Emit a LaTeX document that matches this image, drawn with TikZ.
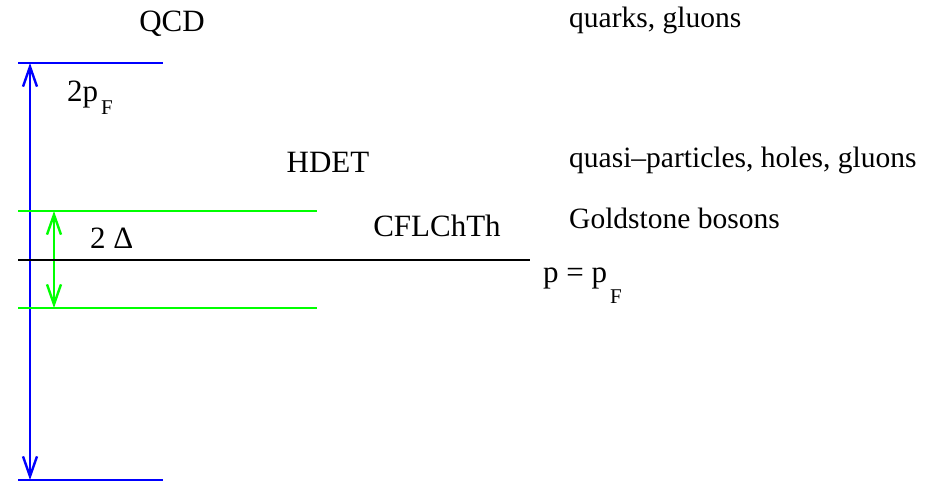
\documentclass[tikz,border=0pt]{standalone}
\usepackage{fontspec}
\setmainfont{Liberation Serif}
\usetikzlibrary{arrows.meta}
\definecolor{scaleblue}{HTML}{0000FF}
\definecolor{gapgreen}{HTML}{00FF00}

\begin{document}
\begin{tikzpicture}[x=1pt,y=-1pt,>={Straight Barb[length=20pt,width=14pt]},
  level/.style={line width=2.4pt},
  theory/.style={font=\rmfamily\fontsize{31}{36}\selectfont,anchor=base,inner sep=0pt},
  dof/.style={font=\rmfamily\fontsize{29.5}{35}\selectfont,anchor=base west,inner sep=0pt}]
  \useasboundingbox (0,0) rectangle (935,483);
  \coordinate (topL) at (18,63);   \coordinate (topR) at (163,63);
  \coordinate (botL) at (18,480);  \coordinate (botR) at (163,480);
  \coordinate (gapL) at (18,211);  \coordinate (gapR) at (317,211);
  \coordinate (lowL) at (18,308);  \coordinate (lowR) at (317,308);
  \coordinate (fermiL) at (18,260); \coordinate (fermiR) at (530,260);
  \coordinate (topA) at (30,63);   \coordinate (botA) at (30,480);
  \coordinate (gapA) at (54,211);  \coordinate (lowA) at (54,308);
  \draw[level,scaleblue] (topL)--(topR);
  \draw[level,scaleblue] (botL)--(botR);
  \draw[level,scaleblue,<->] (topA)--(botA);
  \draw[level,gapgreen] (gapL)--(gapR);
  \draw[level,gapgreen] (lowL)--(lowR);
  \draw[level,gapgreen,<->] (gapA)--(lowA);
  \draw[level,black] (fermiL)--(fermiR);
  \node[theory] (qcd) at (172,31) {QCD};
  \node[theory] (hdet) at (328,172) {HDET};
  \node[theory] (cfl) at (437,236) {CFLChTh};
  \node[theory,anchor=base west] (twopf) at (67,101)
    {2p\hspace{3pt}\raisebox{-13pt}{\fontsize{21}{24}\selectfont F}};
  \node[theory,anchor=base west] (gap) at (90,248) {2 Δ};
  \node[theory,anchor=base west] (pf) at (543,282)
    {p = p\hspace{3pt}\raisebox{-21pt}{\fontsize{21}{24}\selectfont F}};
  \node[dof] (quarks) at (569,27) {quarks, gluons};
  \node[dof] (quasi) at (569,167) {quasi--particles, holes, gluons};
  \node[dof] (gold) at (569,228) {Goldstone bosons};
\end{tikzpicture}
\end{document}
